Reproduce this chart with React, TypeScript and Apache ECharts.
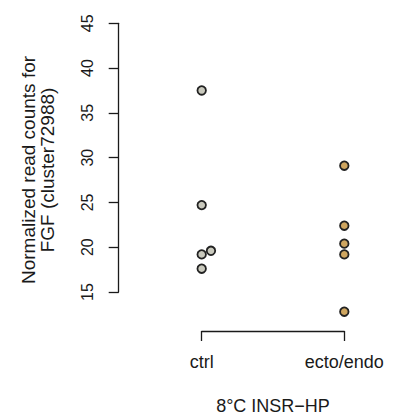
import React, { useEffect, useRef } from "react";
import * as echarts from "echarts";

const categories = ["ctrl", "ecto/endo"];
const ctrlValues = [37.5, 24.7, 19.2, 19.6, 17.6];
const ctrlJitter = [0, 0, 0, 0.065, 0];
const ectoValues = [29.1, 22.4, 20.4, 19.2, 12.8];
const ectoJitter = [0, 0, 0, 0, 0];
const yTicks = [15, 20, 25, 30, 35, 40, 45];
const xLabel = "8°C INSR\u2212HP";
const yLabel = "Normalized read counts for\nFGF (cluster72988)";

const FONT = "'Liberation Sans', Arial, Helvetica, sans-serif";
const INK = "#1a1a1a";

export default function App() {
  const ref = useRef<HTMLDivElement>(null);
  useEffect(() => {
    if (!ref.current) return;
    const chart = echarts.init(ref.current, undefined, { renderer: "svg" });
    const ctrlData = ctrlValues.map((v, i) => [1 + ctrlJitter[i], v]);
    const ectoData = ectoValues.map((v, i) => [2 + ectoJitter[i], v]);
    chart.setOption({
      animation: false,
      backgroundColor: "#ffffff",
      grid: { left: 201.7, right: 52.7, top: 23.3, bottom: 127.3, containLabel: false },
      xAxis: {
        type: "value",
        min: 1,
        max: 2,
        interval: 1,
        offset: 39,
        splitLine: { show: false },
        axisLine: { show: true, lineStyle: { color: INK, width: 1.3 } },
        axisTick: { show: true, length: 10, lineStyle: { color: INK, width: 1.3 } },
        axisLabel: {
          show: true,
          margin: 22,
          color: INK,
          fontFamily: FONT,
          fontSize: 18,
          formatter: (v: number) => categories[Math.round(v) - 1] ?? "",
        },
        name: xLabel,
        nameLocation: "middle",
        nameGap: 66,
        nameTextStyle: { color: INK, fontFamily: FONT, fontSize: 18 },
      },
      yAxis: {
        type: "value",
        min: yTicks[0],
        max: yTicks[yTicks.length - 1],
        interval: 5,
        offset: 83,
        splitLine: { show: false },
        axisLine: { show: true, lineStyle: { color: INK, width: 1.3 } },
        axisTick: { show: true, length: 10, lineStyle: { color: INK, width: 1.3 } },
        axisLabel: {
          show: true,
          rotate: 90,
          margin: 23,
          color: INK,
          fontFamily: FONT,
          fontSize: 16,
        },
      },
      graphic: [
        {
          type: "text",
          x: 38,
          y: 170,
          rotation: Math.PI / 2,
          style: {
            text: yLabel,
            fill: INK,
            font: `19px ${FONT}`,
            textAlign: "center",
            textVerticalAlign: "middle",
            lineHeight: 19,
          },
        },
      ],
      series: [
        {
          type: "scatter",
          clip: false,
          data: ctrlData,
          symbol: "circle",
          symbolSize: 8.5,
          itemStyle: { color: "#c9c9bd", borderColor: "#222222", borderWidth: 1.8, opacity: 1 },
        },
        {
          type: "scatter",
          clip: false,
          data: ectoData,
          symbol: "circle",
          symbolSize: 8.5,
          itemStyle: { color: "#cfa660", borderColor: "#222222", borderWidth: 1.8, opacity: 1 },
        },
      ],
    });
    return () => chart.dispose();
  }, []);
  return (
    <div
      ref={ref}
      style={{ position: "absolute", left: 0, top: 0, width: 397, height: 420 }}
    />
  );
}
